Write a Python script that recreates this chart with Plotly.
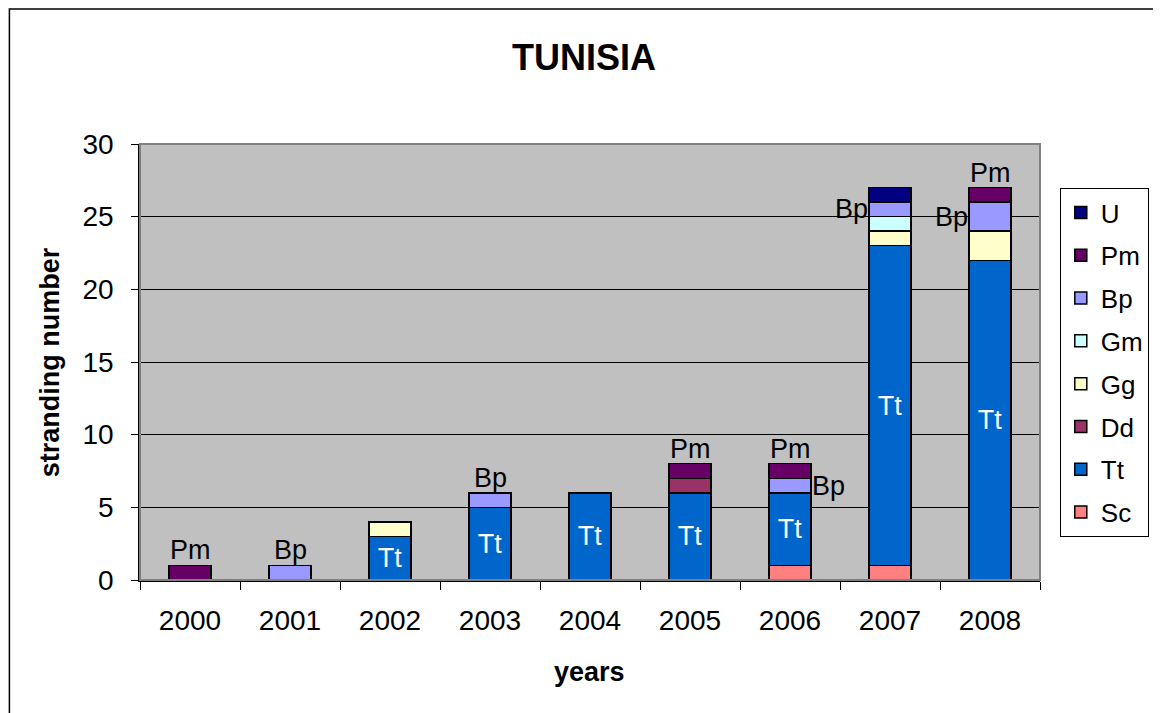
import plotly.graph_objects as go

# data
years = ["2000", "2001", "2002", "2003", "2004", "2005", "2006", "2007", "2008"]
sc = [0, 0, 0, 0, 0, 0, 1, 1, 0]
tt = [0, 0, 3, 5, 6, 6, 5, 22, 22]
dd = [0, 0, 0, 0, 0, 1, 0, 0, 0]
gg = [0, 0, 1, 0, 0, 0, 0, 1, 2]
gm = [0, 0, 0, 0, 0, 0, 0, 1, 0]
bp = [0, 1, 0, 1, 0, 0, 1, 1, 2]
pm = [1, 0, 0, 0, 0, 1, 1, 0, 1]
u = [0, 0, 0, 0, 0, 0, 0, 1, 0]

# bottom -> top stacking order
series = [
    ("Sc", sc, "#FF8080"),
    ("Tt", tt, "#0066CC"),
    ("Dd", dd, "#993366"),
    ("Gg", gg, "#FFFFCC"),
    ("Gm", gm, "#CCFFFF"),
    ("Bp", bp, "#9999FF"),
    ("Pm", pm, "#660066"),
    ("U", u, "#000080"),
]

# data labels: (year, series, placement)
labels = [
    ("2000", "Pm", "above"),
    ("2001", "Bp", "above"),
    ("2003", "Bp", "above"),
    ("2005", "Pm", "above"),
    ("2006", "Pm", "above"),
    ("2006", "Bp", "right"),
    ("2007", "Bp", "left"),
    ("2008", "Bp", "left"),
    ("2008", "Pm", "above"),
]

FONT = "Arial, Liberation Sans, sans-serif"

fig = go.Figure()
for k, (name, vals, color) in enumerate(series):
    ys = [v if v else None for v in vals]
    kw = {}
    if name == "Tt":
        kw = dict(
            text=["Tt" if v else "" for v in vals],
            textposition="inside", insidetextanchor="middle",
            textfont=dict(color="white", size=27, family=FONT),
            textangle=0,
        )
    fig.add_trace(go.Bar(
        x=years, y=ys, name=name, legendgroup=name,
        legendrank=100 - k,  # legend reads top -> bottom like the stack
        marker=dict(color=color, line=dict(color="black", width=1.5)),
        hoverinfo="x+y+name", **kw,
    ))

# segment bounds for the labels
bounds = {}
base = [0] * len(years)
for name, vals, _ in series:
    for i, v in enumerate(vals):
        bounds[(years[i], name)] = (base[i], base[i] + v)
        base[i] += v

for yr, name, place in labels:
    lo, hi = bounds[(yr, name)]
    i = years.index(yr)
    if place == "above":
        a = dict(y=base[i], yanchor="bottom", xanchor="center", yshift=-2)
    elif place == "left":
        a = dict(y=(lo + hi) / 2, yanchor="middle", xanchor="right", xshift=-20)
    else:
        a = dict(y=(lo + hi) / 2, yanchor="middle", xanchor="left", xshift=20)
    fig.add_annotation(x=i, text=name, showarrow=False,
                       font=dict(size=27, color="black", family=FONT), **a)

# axis titles
fig.add_annotation(xref="paper", yref="paper", x=0.4994, y=-0.211, text="<b>years</b>",
                   xanchor="center", yanchor="middle",
                   showarrow=False, font=dict(size=27, family=FONT, color="black"))
fig.add_annotation(xref="paper", yref="paper", x=-0.0997, y=0.5, text="<b>stranding number</b>",
                   xanchor="center", yanchor="middle",
                   textangle=-90, showarrow=False, font=dict(size=27, family=FONT, color="black"))

# plot area border and chart border
fig.add_shape(type="rect", xref="paper", yref="paper", x0=0, x1=1, y0=0, y1=1,
              line=dict(color="#808080", width=2), layer="above")
fig.add_shape(type="rect", xref="paper", yref="paper", x0=-0.1451, x1=1.1285, y0=-0.33, y1=1.3096,
              line=dict(color="black", width=1.5))

fig.update_layout(
    width=1153, height=705,
    margin=dict(l=132, r=118, t=136, b=133),
    paper_bgcolor="white",
    plot_bgcolor="#C0C0C0",
    barmode="stack",
    bargap=0.58,
    font=dict(family=FONT, color="black", size=27),
    title=dict(text="<b>TUNISIA</b>", x=0.4995, xanchor="center", y=0.93, yanchor="middle",
               font=dict(size=36, family=FONT, color="black")),
    showlegend=True,
    legend=dict(
        x=1.022, y=0.899, xanchor="left", yanchor="top",
        traceorder="grouped", tracegroupgap=6,
        bgcolor="white", bordercolor="black", borderwidth=1,
        font=dict(size=26, family=FONT, color="black"),
    ),
    xaxis=dict(
        type="category", range=[-0.5, len(years) - 0.5], autorange=False,
        showgrid=False, showline=True, linecolor="black", linewidth=1.5,
        ticks="outside", tickson="boundaries", ticklen=8, tickcolor="black",
        tickangle=0,
        tickfont=dict(size=28, family=FONT, color="black"), ticklabelstandoff=15,
    ),
    yaxis=dict(
        range=[0, 30], dtick=5, showgrid=True, gridcolor="black", gridwidth=1,
        zeroline=False, showline=True, linecolor="black", linewidth=1.5,
        ticks="outside", ticklen=7, tickcolor="black",
        tickfont=dict(size=28, family=FONT, color="black"), ticklabelstandoff=12,
    ),
)

fig.write_html("out.html")
